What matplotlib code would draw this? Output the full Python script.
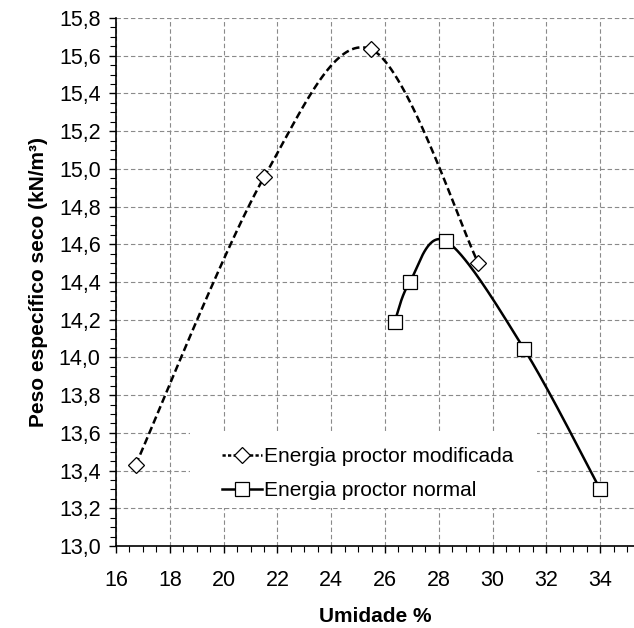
import numpy as np
import matplotlib
matplotlib.use("Agg")
import matplotlib.pyplot as plt
from matplotlib.ticker import MultipleLocator, FuncFormatter
from matplotlib.patches import Rectangle

plt.rcParams['font.family'] = ['Liberation Sans', 'DejaVu Sans']

# Data
mod_x = [16.73, 21.5, 25.47, 29.47]
mod_y = [13.43, 14.955, 15.635, 14.50]
norm_x = [26.36, 26.92, 28.27, 31.17, 34.0]
norm_y = [14.19, 14.40, 14.617, 14.045, 13.30]

label_mod = "Energia proctor modificada"
label_norm = "Energia proctor normal"
xlabel = "Umidade %"
ylabel = "Peso específico seco (kN/m³)"

W, H = 634, 628
fig = plt.figure(figsize=(W / 100, H / 100), dpi=100)
ax = fig.add_axes([116 / W, 1 - 546 / H, (W - 116) / W, (546 - 18) / H])
xlim = (16, 16 + (W - 116) / 26.9)
ylim = (13.0, 15.8)
ax.set_xlim(*xlim)
ax.set_ylim(*ylim)


def excel_smooth(xs, ys, n=40):
    # Bezier smoothing computed in screen (pixel) space, like Excel
    sx, sy = 26.9, 188.6
    P = np.column_stack([np.asarray(xs) * sx, np.asarray(ys) * sy])
    out = []
    m = len(P)
    for i in range(m - 1):
        p0 = P[i - 1] if i > 0 else P[i]
        p1 = P[i]
        p2 = P[i + 1]
        p3 = P[i + 2] if i + 2 < m else P[i + 1]
        c1 = p1 + (p2 - p0) / 6.0
        c2 = p2 - (p3 - p1) / 6.0
        t = np.linspace(0, 1, n)[:, None]
        seg = ((1 - t) ** 3) * p1 + 3 * ((1 - t) ** 2) * t * c1 + 3 * (1 - t) * t ** 2 * c2 + t ** 3 * p2
        out.append(seg if i == 0 else seg[1:])
    out = np.vstack(out)
    return out[:, 0] / sx, out[:, 1] / sy


mx, my = excel_smooth(mod_x, mod_y)
nx, ny = excel_smooth(norm_x, norm_y)

dash = (0, (3.0, 1.5))
ax.plot(mx, my, color='black', lw=1.8, linestyle=dash, zorder=3)
ax.plot(mod_x, mod_y, linestyle='none', marker='D', ms=7.8, mfc='white', mec='black', mew=0.9, zorder=4)
ax.plot(nx, ny, color='black', lw=1.8, zorder=3)
ax.plot(norm_x, norm_y, linestyle='none', marker='s', ms=9.5, mfc='white', mec='black', mew=0.9, zorder=4)

# white legend background (hides grid)
ax.add_patch(Rectangle((0.143, 0.072), 0.67, 0.144, transform=ax.transAxes,
                       facecolor='white', edgecolor='none', zorder=1))

# legend proxies
h1, = ax.plot([], [], color='black', lw=1.8, linestyle=(0, (1.3, 0.9)), marker='D', ms=7.8, mfc='white', mec='black', mew=0.9)
h2, = ax.plot([], [], color='black', lw=1.8, marker='s', ms=9.5, mfc='white', mec='black', mew=0.9)
leg = ax.legend([h1, h2], [label_mod, label_norm], loc='center left',
                bbox_to_anchor=(0.205, 0.137), frameon=False,
                fontsize=15, handlelength=1.9, handletextpad=0.1,
                labelspacing=0.72, borderpad=0, borderaxespad=0)
leg.set_zorder(5)

ax.xaxis.set_major_locator(MultipleLocator(2))
ax.xaxis.set_minor_locator(MultipleLocator(0.5))
ax.yaxis.set_major_locator(MultipleLocator(0.2))
ax.yaxis.set_minor_locator(MultipleLocator(0.05))
ax.yaxis.set_major_formatter(FuncFormatter(lambda v, p: f"{v:.1f}".replace('.', ',')))
ax.xaxis.set_major_formatter(FuncFormatter(lambda v, p: f"{v:.0f}"))

ax.grid(True, which='major', color='#8a8a8a', linestyle=(0, (4, 2.5)), lw=0.8, zorder=0)
ax.set_axisbelow(True)

for s in ['top', 'right']:
    ax.spines[s].set_visible(False)
for s in ['left', 'bottom']:
    ax.spines[s].set_linewidth(1.2)
    ax.spines[s].set_zorder(6)

ax.tick_params(which='major', direction='out', length=5, width=1.0, labelsize=15.5, pad=6)
ax.tick_params(which='minor', direction='out', length=4, width=0.8)
ax.tick_params(axis='x', which='major', pad=12)

ax.set_xlabel(xlabel, fontsize=15, fontweight='bold', labelpad=12)
ax.set_ylabel(ylabel, fontsize=15, fontweight='bold', labelpad=8)

fig.savefig("out.png", dpi=100)
